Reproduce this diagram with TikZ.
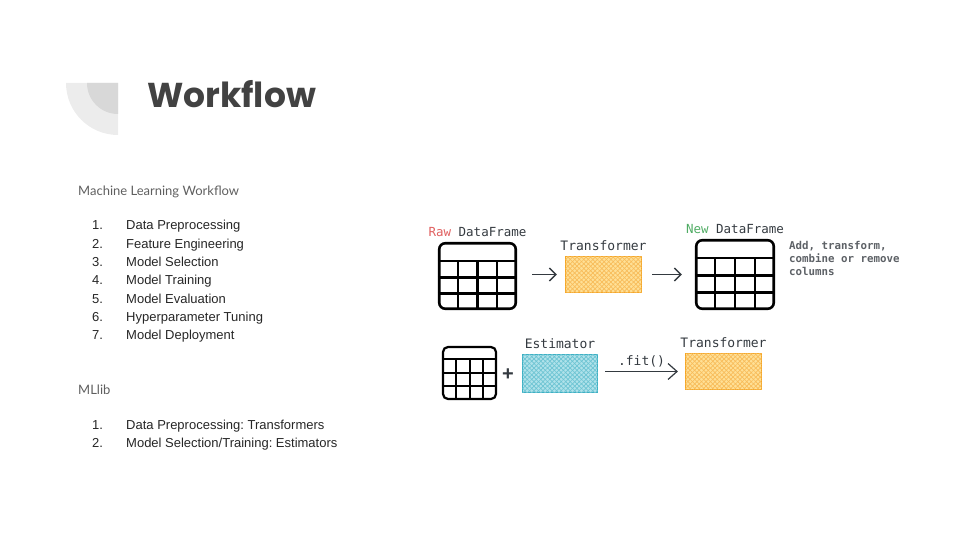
\documentclass[tikz,border=0pt]{standalone}
\usepackage{fontspec}
\setmainfont{Liberation Sans}
\newfontfamily\titlefont{Poppins}
\newfontfamily\headfont{Lato}
\newfontfamily\codefont{DejaVu Sans Mono}
\usepackage{xcolor}
\usepackage{tikz}
\usetikzlibrary{arrows.meta, positioning, calc, patterns.meta}
\definecolor{titlegray}{RGB}{66, 66, 66}
\definecolor{headgray}{RGB}{95, 95, 95}
\definecolor{codegray}{RGB}{52, 58, 64}
\definecolor{rawred}{RGB}{224, 96, 96}
\definecolor{newgreen}{RGB}{80, 172, 100}
\definecolor{tfyellow}{RGB}{255, 224, 150}
\definecolor{tforange}{RGB}{245, 166, 35}
\definecolor{estteal}{RGB}{176, 226, 234}
\definecolor{estdark}{RGB}{60, 176, 196}
\definecolor{decolight}{RGB}{236, 236, 236}
\definecolor{decodark}{RGB}{216, 216, 216}

% grid inside a table node: name, header height, line width
\newcommand{\tablegrid}[3]{%
  \coordinate (#1-hl) at ($(#1.north west)+(0pt,-#2pt)$);
  \coordinate (#1-hr) at ($(#1.north east)+(0pt,-#2pt)$);
  \draw[line width=#3] (#1-hl) -- (#1-hr);
  \foreach \j in {1,2} \draw[line width=#3] ($(#1-hl)!\j/3!(#1.south west)$) -- ($(#1-hr)!\j/3!(#1.south east)$);
  \foreach \i in {1,2,3} \draw[line width=#3] ($(#1-hl)!\i/4!(#1-hr)$) -- ($(#1.south west)!\i/4!(#1.south east)$);
}

\begin{document}
\frenchspacing
\begin{tikzpicture}[x=1pt, y=-1pt,
  txt/.style={inner sep=0pt, anchor=base west},
  item/.style={txt, font=\fontsize{13}{15}\selectfont, text=black!85},
  head/.style={txt, font=\headfont\fontsize{13}{15}\selectfont, text=headgray},
  code/.style={inner sep=1pt, font=\codefont\fontsize{13}{15}\selectfont, text=codegray},
  tbl/.style={draw, rounded corners=6pt, line width=2.6pt},
  hatch/.style={postaction={pattern={Lines[angle=45, distance=3.2pt, line width=0.7pt]}, pattern color=#1},
    postaction={pattern={Lines[angle=-45, distance=3.2pt, line width=0.7pt]}, pattern color=#1}},
  tfbox/.style={draw=tforange, line width=1.2pt, fill=tfyellow, minimum width=76pt, minimum height=36pt,
    hatch=tforange!75},
  estbox/.style={draw=estdark, line width=1.2pt, fill=estteal, minimum width=75pt, minimum height=38pt,
    hatch=estdark!75},
  arr/.style={-{Straight Barb[length=6.5pt, width=13pt]}, line width=1.4pt, codegray}]
  \useasboundingbox (0,0) rectangle (960,540);

  % corner decoration
  \fill[decolight] (118,83) -- (66,83) arc[start angle=180, end angle=90, radius=52] -- cycle;
  \fill[decodark] (118,83) -- (87,83) arc[start angle=180, end angle=90, radius=31] -- cycle;
  \node[txt, font=\titlefont\bfseries\fontsize{34.5}{40}\selectfont, text=titlegray] (title) at (147,108) {Workflow};

  % left column
  \node[head] (mlhead) at (78,195) {Machine Learning Workflow};
  \foreach \t [count=\i] in {Data Preprocessing, Feature Engineering, Model Selection, Model Training,
      Model Evaluation, Hyperparameter Tuning, Model Deployment} {
    \node[item] (mlnum\i) at (92,{211.4+18.33*\i}) {\i.};
    \node[item] (mlstep\i) at (126,{211.4+18.33*\i}) {\t};
  }
  \node[head] (libhead) at (78,394) {MLlib};
  \node[item] (libnum1) at (92,429) {1.};
  \node[item] (libstep1) at (126,429) {Data Preprocessing: Transformers};
  \node[item] (libnum2) at (92,447) {2.};
  \node[item] (libstep2) at (126,447) {Model Selection/Training: Estimators};

  % transformer row
  \node[tbl, minimum width=76.5pt, minimum height=65.5pt] (raw) at (477.5,276) {};
  \tablegrid{raw}{19}{2.4pt}
  \node[code, above=4pt of raw, font=\codefont\fontsize{12.5}{14}\selectfont] (rawlbl) {\textcolor{rawred}{Raw} DataFrame};
  \node[tfbox] (tf1) at (603.5,274.5) {};
  \node[code, above=4pt of tf1] (tf1lbl) {Transformer};
  \node[tbl, minimum width=77.5pt, minimum height=68.5pt] (new) at (735,274.5) {};
  \tablegrid{new}{19}{2.4pt}
  \node[code, above=4pt of new, font=\codefont\fontsize{12.5}{14}\selectfont] (newlbl) {\textcolor{newgreen}{New} DataFrame};
  \node[inner sep=0pt, anchor=north west, align=left, text=codegray!80,
    font=\codefont\bfseries\fontsize{10.8}{13.2}\selectfont] (note) at (789,241)
    {Add, transform,\\combine or remove\\columns};
  \draw[arr, shorten <=15pt, shorten >=8pt] (raw.east |- tf1.west) -- (tf1.west);
  \draw[arr, shorten <=10pt, shorten >=13pt] (tf1.east) -- (tf1.east -| new.west);

  % estimator row
  \node[tbl, line width=2.2pt, rounded corners=5pt, minimum width=53pt, minimum height=52pt] (small) at (469.5,373) {};
  \tablegrid{small}{13}{2pt}
  \node[inner sep=0pt, font=\bfseries\fontsize{20}{20}\selectfont, text=codegray] (plus) at (508,375) {+};
  \node[estbox] (est) at (560,373.5) {};
  \node[code, above=4pt of est] (estlbl) {Estimator};
  \node[tfbox] (tf2) at (723.5,371.5) {};
  \node[code, above=4pt of tf2] (tf2lbl) {Transformer};
  \draw[arr, -{Straight Barb[length=9pt, width=16pt]}, line width=1.2pt, shorten <=7pt, shorten >=7pt]
    (est.east |- tf2.west) -- node[code, above=3pt] (fit) {.fit()} (tf2.west);
\end{tikzpicture}
\end{document}
